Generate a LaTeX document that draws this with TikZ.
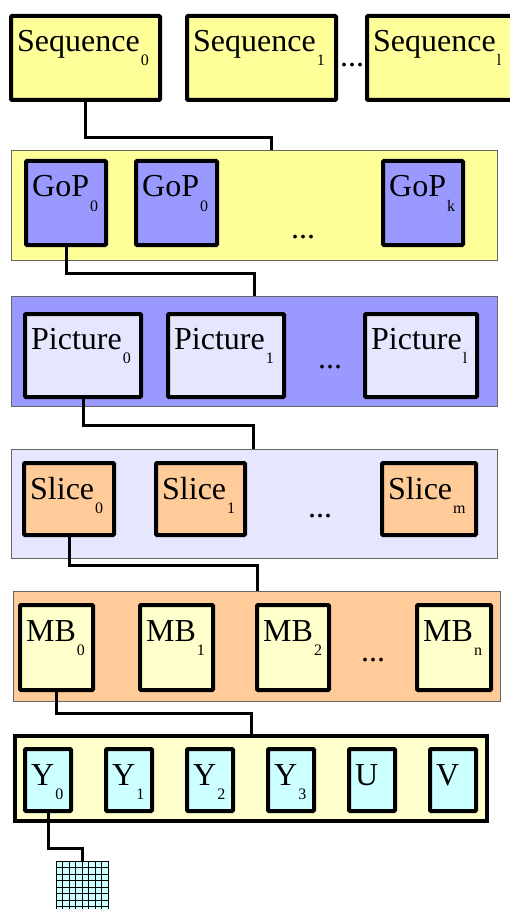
\documentclass[tikz,border=0pt]{standalone}
\usepackage{fontspec}
\setmainfont{Liberation Serif}
\usetikzlibrary{calc}
\definecolor{SeqClr}{RGB}{255,255,153}
\definecolor{GopClr}{RGB}{153,153,255}
\definecolor{PicClr}{RGB}{230,230,255}
\definecolor{SliceClr}{RGB}{255,204,153}
\definecolor{MbClr}{RGB}{255,255,204}
\definecolor{LumaClr}{RGB}{204,255,255}
\newcommand\subidx[1]{\kern1pt\raisebox{-14pt}{\fontsize{16}{16}\selectfont #1}}

\begin{document}
\begin{tikzpicture}[x=1pt,y=-1pt,
  blk/.style={draw,line width=4pt,rounded corners=1pt,inner sep=0pt,outer sep=0pt,anchor=north west},
  band/.style={draw=black!60,line width=0.8pt,inner sep=0pt,outer sep=0pt,anchor=north west},
  lbl/.style={font=\fontsize{32}{32}\selectfont,inner sep=0pt,anchor=base west},
  link/.style={line width=3pt}]
\useasboundingbox (0,0) rectangle (509,909);

\node[band,fill=SeqClr,minimum width=486,minimum height=110] (gopband) at (11,150) {};
\node[band,fill=GopClr,minimum width=486,minimum height=110] (picband) at (11,296) {};
\node[band,fill=PicClr,minimum width=486,minimum height=109] (sliceband) at (11,449) {};
\node[band,fill=SliceClr,minimum width=487,minimum height=110] (mbband) at (13,591) {};
\node[blk,fill=MbClr,rounded corners=0pt,minimum width=472,minimum height=85] (yband) at (15,736) {};

\foreach \nm/\x/\w/\t in {s0/11/149/{Sequence\subidx{0}},s1/187/149/{Sequence\subidx{1}},s2/367/149/{Sequence\subidx{l}}}{
  \node[blk,fill=SeqClr,minimum width=\w,minimum height=84] (\nm) at (\x,16) {};
  \node[lbl] (\nm-t) at ($(\nm.north west)+(6,36)$) {\t};
}
\foreach \nm/\x/\w/\t in {g0/26/80/{GoP\subidx{0}},g1/136/81/{GoP\subidx{0}},gk/383/80/{GoP\subidx{k}}}{
  \node[blk,fill=GopClr,minimum width=\w,minimum height=84] (\nm) at (\x,161) {};
  \node[lbl] (\nm-t) at ($(\nm.north west)+(6,36)$) {\t};
}
\foreach \nm/\x/\w/\t in {p0/25/116/{Picture\subidx{0}},p1/168/116/{Picture\subidx{1}},pl/365/112/{Picture\subidx{l}}}{
  \node[blk,fill=PicClr,minimum width=\w,minimum height=83] (\nm) at (\x,314) {};
  \node[lbl] (\nm-t) at ($(\nm.north west)+(6,35)$) {\t};
}
\foreach \nm/\x/\w/\t in {sl0/24/90/{Slice\subidx{0}},sl1/156/89/{Slice\subidx{1}},slm/382/94/{Slice\subidx{m}}}{
  \node[blk,fill=SliceClr,minimum width=\w,minimum height=72] (\nm) at (\x,463) {};
  \node[lbl] (\nm-t) at ($(\nm.north west)+(6,36)$) {\t};
}
\foreach \nm/\x/\w/\t in {m0/20/73/{MB\subidx{0}},m1/140/73/{MB\subidx{1}},m2/257/72/{MB\subidx{2}},mn/417/74/{MB\subidx{n}}}{
  \node[blk,fill=MbClr,minimum width=\w,minimum height=85] (\nm) at (\x,605) {};
  \node[lbl] (\nm-t) at ($(\nm.north west)+(6,36)$) {\t};
}
\foreach \nm/\x/\t in {y0/25/{Y\subidx{0}},y1/106/{Y\subidx{1}},y2/187/{Y\subidx{2}},y3/268/{Y\subidx{3}},u/349/{U},v/430/{V}}{
  \node[blk,fill=LumaClr,minimum width=46,minimum height=62] (\nm) at (\x,749) {};
  \node[lbl] (\nm-t) at ($(\nm.north west)+(6,36)$) {\t};
}

\node[lbl] (dots1) at (340,67) {...};
\node[lbl] (dots2) at (291,238) {...};
\node[lbl] (dots3) at (318,368) {...};
\node[lbl] (dots4) at (308,517) {...};
\node[lbl] (dots5) at (361,661) {...};

\node[draw,line width=0.8pt,fill=LumaClr,minimum size=52,inner sep=0pt,outer sep=0pt] (pix) at (82,887) {};
\foreach \i in {1,...,7}{
  \draw[line width=0.8pt] (56+\i*6.5,861) -- (56+\i*6.5,913);
  \draw[line width=0.8pt] (56,861+\i*6.5) -- (108,861+\i*6.5);
}

\coordinate (gin) at (271,150);
\coordinate (pin) at (254,296);
\coordinate (slin) at (253,449);
\coordinate (mbin) at (257,591);
\coordinate (yin) at (251,734);

\draw[link] (s0.south) -- ++(0,38) -| (gin);
\draw[link] (g0.south) -- ++(0,28) -| (pin);
\draw[link] (p0.south) -- ++(0,28) -| (slin);
\draw[link] (sl0.south) -- ++(0,30) -| (mbin);
\draw[link] (m0.south) -- ++(0,23) -| (yin);
\draw[link] (y0.south) -- ++(0,37) -| (pix.north);

\end{tikzpicture}
\end{document}
